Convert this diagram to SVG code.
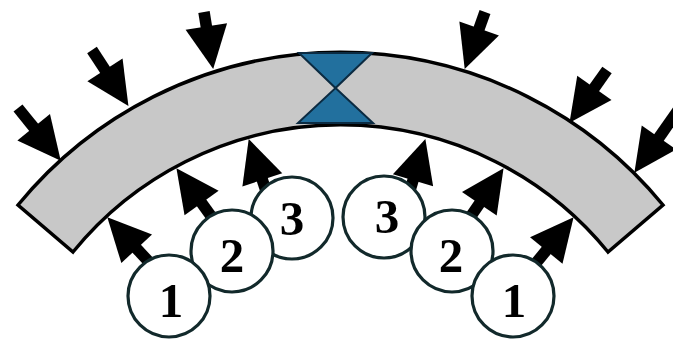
<svg xmlns="http://www.w3.org/2000/svg" width="673" height="339" viewBox="0 0 673 339">
  <style>
    .bar { fill: #c8c8c8; stroke: #000; stroke-width: 3.5; stroke-linejoin: miter; }
    .hg { fill: #22709e; stroke: #0b2b42; stroke-width: 2; stroke-linejoin: miter; }
    .shaft { stroke: #000; stroke-width: 11.5; fill: none; marker-end: url(#head); }
    .node circle { fill: #fff; stroke: #12292b; stroke-width: 3.2; }
    .node text { font-family: "Liberation Serif", "Times New Roman", serif; font-weight: bold; font-size: 49px; fill: #000; text-anchor: middle; }
  </style>
  <defs>
    <marker id="head" markerUnits="userSpaceOnUse" viewBox="-1 -22 45 44" markerWidth="45" markerHeight="44" refX="0" refY="0" orient="auto" overflow="visible">
      <path d="M-1,-21 L42,0 L-1,21 Z" fill="#000"/>
    </marker>
  </defs>
  <rect width="673" height="339" fill="#fff"/>

  <g id="bar">
    <path class="bar" d="M18,205 A417,417 0 0 1 663,205 L608,252 A345,345 0 0 0 73,252 Z"/>
  </g>
  <g id="hourglass">
    <polygon class="hg" points="299,53 372,53 335.5,88"/>
    <polygon class="hg" points="335.5,88 373,123 298,123"/>
  </g>

  <g id="connectors">
    <!-- outer loads -->
    <line class="shaft" x1="18" y1="108" x2="34.3" y2="128.1"/>
    <line class="shaft" x1="92" y1="50" x2="105.5" y2="70.7"/>
    <line class="shaft" x1="204" y1="12" x2="206.5" y2="27.5"/>
    <line class="shaft" x1="485" y1="12" x2="478.8" y2="29.4"/>
    <line class="shaft" x1="607" y1="70" x2="593.8" y2="88.6"/>
    <line class="shaft" x1="681" y1="106" x2="658.4" y2="138.4"/>
    <!-- inner supports -->
    <line class="shaft" x1="163.3" y1="277.2" x2="136" y2="248"/>
    <line class="shaft" x1="221.5" y1="230.6" x2="201" y2="202.2"/>
    <line class="shaft" x1="269.9" y1="202.6" x2="262" y2="178.9"/>
    <line class="shaft" x1="406.1" y1="203.3" x2="413.3" y2="179.3"/>
    <line class="shaft" x1="460.2" y1="231.8" x2="479.9" y2="202.9"/>
    <line class="shaft" x1="521.5" y1="280.6" x2="546.9" y2="249.7"/>
  </g>

  <g id="node-L3" class="node"><circle cx="292" cy="218" r="41"/><text x="292" y="235">3</text></g>
  <g id="node-L2" class="node"><circle cx="232" cy="251" r="41"/><text x="232" y="272">2</text></g>
  <g id="node-L1" class="node"><circle cx="169" cy="296" r="41"/><text x="171" y="317">1</text></g>
  <g id="node-R3" class="node"><circle cx="384" cy="217" r="41"/><text x="387" y="233">3</text></g>
  <g id="node-R2" class="node"><circle cx="452" cy="251" r="41"/><text x="451" y="272">2</text></g>
  <g id="node-R1" class="node"><circle cx="513" cy="296" r="41"/><text x="514" y="317">1</text></g>
</svg>
